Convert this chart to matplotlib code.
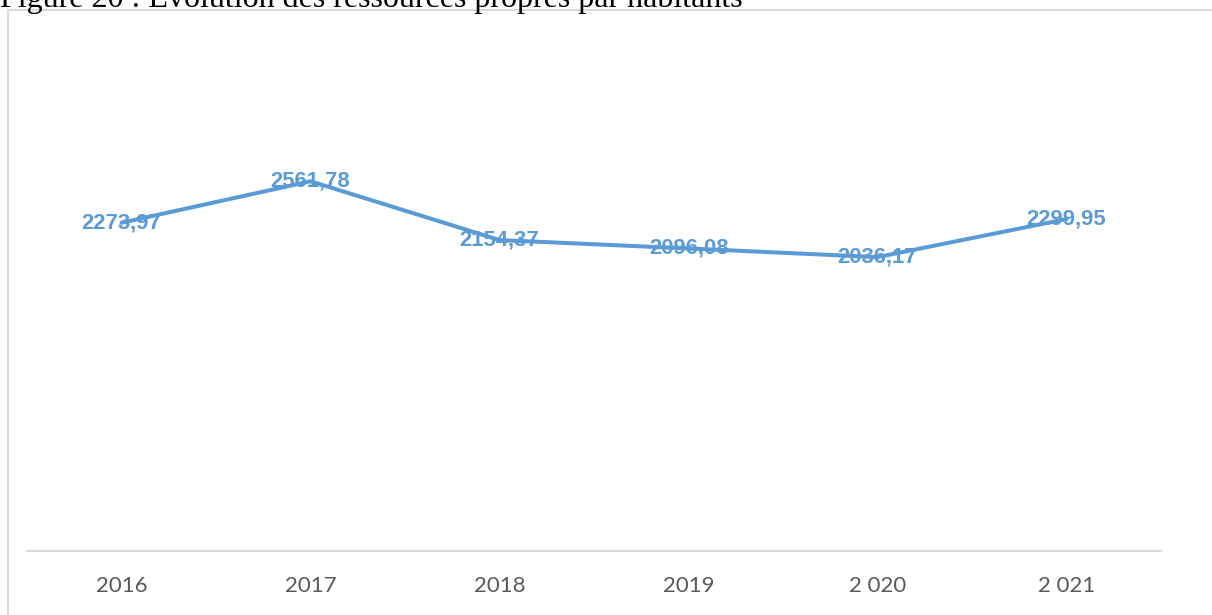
import matplotlib.pyplot as plt
from matplotlib.patches import Rectangle

years = ['2016', '2017', '2018', '2019', '2 020', '2 021']
ressources = [2273.97, 2561.78, 2154.37, 2096.08, 2036.17, 2299.95]
labels = ['2273,97', '2561,78', '2154,37', '2096,08', '2036,17', '2299,95']

W, H = 1212, 615
fig = plt.figure(figsize=(W / 100, H / 100), dpi=100)

# chart frame (extends past the right and bottom edges)
fig.add_artist(Rectangle((8 / W, -0.2), 1.5, 1.2 - 10 / H, transform=fig.transFigure,
                         fill=False, edgecolor='#d9d9d9', lw=1.5))

fig.text(0, 1 - 7 / H, 'Figure 20 : Évolution des ressources propres par habitants',
         fontsize=23, family='Liberation Serif', va='baseline', ha='left')

ax = fig.add_axes([27 / W, (H - 551) / H, (1161 - 27) / W, (551 - 118) / H])
x = range(len(years))
ax.plot(x, ressources, color='#5b9bd5', lw=2.9, solid_capstyle='round')
for xi, v, s in zip(x, ressources, labels):
    ax.text(xi, v, s, ha='center', va='center', color='#5b9bd5',
            fontsize=15.8, fontweight='bold', family='Liberation Sans')

ax.set_xlim(-0.5, len(years) - 0.5)
ax.set_ylim(0, 3000)
ax.set_xticks(list(x))
ax.set_xticklabels(years, family='Lato', fontsize=16, color='#595959')
ax.tick_params(axis='x', length=0, pad=18)
ax.set_yticks([])
for side in ['top', 'right', 'left']:
    ax.spines[side].set_visible(False)
ax.spines['bottom'].set_color('#d9d9d9')
ax.spines['bottom'].set_linewidth(1.5)

fig.savefig('out.png', dpi=100)
